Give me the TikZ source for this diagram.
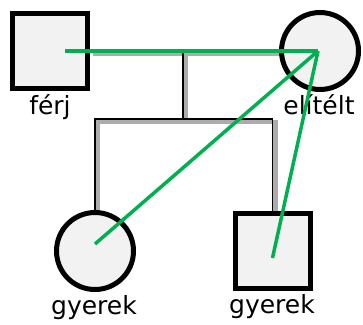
\documentclass[tikz,border=0pt]{standalone}
\usepackage{fontspec}
\setmainfont{DejaVu Sans}
\usepackage{xcolor}
\usetikzlibrary{backgrounds}
\definecolor{zold}{HTML}{00B050}
\definecolor{kitoltes}{HTML}{F2F2F2}

\begin{document}
\begin{tikzpicture}[x=1pt, y=-1pt,
    ferfi/.style={rectangle, draw, fill=kitoltes, line width=5pt, inner sep=0pt, minimum size=75pt},
    no/.style={circle, draw, fill=kitoltes, line width=5pt, inner sep=0pt, minimum size=77pt},
    felirat/.style={anchor=base, inner sep=0pt, font=\fontsize{25}{29}\selectfont},
    kin/.style={black, line width=1.2pt, line join=miter,
      preaction={draw, gray!65, line width=4.5pt, transform canvas={shift={(3pt,-3pt)}}}},
    kapcsolat/.style={zold, line width=3.5pt}]
      \useasboundingbox (0,0) rectangle (363,324);
      % szemelyek
      \node [ferfi] (ferj) at (50,51) {};
      \node [no] (elitelt) at (320,51) {};
      \node [no] (gyerek1) at (95,251) {};
      \node [ferfi] (gyerek2) at (272.5,251) {};
      \node [felirat] (ferjtxt) at (50,114) {férj};
      \node [felirat] (elitelttxt) at (319,114) {elítélt};
      \node [felirat] (gyerek1txt) at (94,314) {gyerek};
      \node [felirat] (gyerek2txt) at (272,313) {gyerek};
      % csaladi vonalak
      \coordinate (m) at (183,51);
      \coordinate (s) at (183,119);
      \begin{scope}[on background layer]
        \draw[kin] (ferj.east) -- (elitelt.west);
        \draw[kin] (m) -- (s);
        \draw[kin] (gyerek1.north) -- (gyerek1.north |- s) -- (gyerek2.north |- s) -- (gyerek2.north);
      \end{scope}
      % kapcsolatok
      \coordinate (a) at ([xshift=15pt]ferj.center);
      \coordinate (b) at ([xshift=-2pt]elitelt.center);
      \coordinate (c) at ([yshift=7pt]gyerek1.center);
      \coordinate (d) at ([yshift=-7pt]gyerek2.center);
      \draw[kapcsolat] (a) -- (b);
      \draw[kapcsolat] (b) -- (c);
      \draw[kapcsolat] (b) -- (d);
    \end{tikzpicture}
\end{document}
